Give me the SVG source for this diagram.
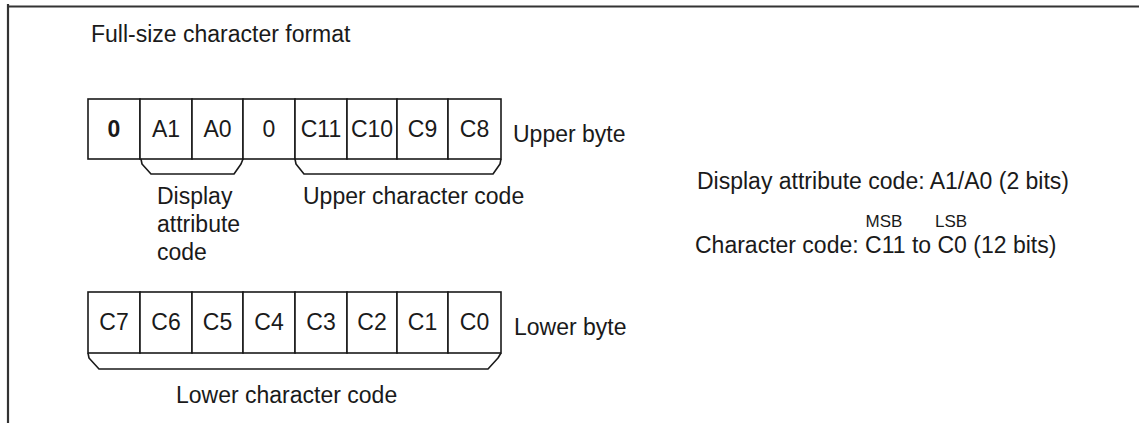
<svg xmlns="http://www.w3.org/2000/svg" width="1139" height="423" viewBox="0 0 1139 423">
<style>
  .t { font-family: "Liberation Sans", Arial, sans-serif; font-size: 23px; fill: #1a1a1a; }
  .c { font-family: "Liberation Sans", Arial, sans-serif; font-size: 23px; fill: #1a1a1a; text-anchor: middle; }
  .s { font-family: "Liberation Sans", Arial, sans-serif; font-size: 17px; fill: #1a1a1a; text-anchor: middle; }
  .cell { fill: #ffffff; stroke: #1a1a1a; stroke-width: 1.6; }
  .brace { fill: none; stroke: #1a1a1a; stroke-width: 1.6; stroke-linejoin: round; }
  .frame { fill: none; stroke: #333333; stroke-width: 2.2; }
</style>
<rect width="1139" height="423" fill="#ffffff"/>
<g id="frame">
  <line class="frame" x1="8" y1="4" x2="8" y2="423"/>
  <line class="frame" x1="7" y1="6.5" x2="1139" y2="6.5"/>
</g>
<text id="title" class="t" x="91" y="42">Full-size character format</text>

<g id="upper-byte">
  <g id="u0"><rect class="cell" x="88" y="99" width="52" height="60"/><text class="c" x="114" y="137" font-weight="bold">0</text></g>
  <g id="uA1"><rect class="cell" x="140" y="99" width="52" height="60"/><text class="c" x="166" y="137">A1</text></g>
  <g id="uA0"><rect class="cell" x="192" y="99" width="51" height="60"/><text class="c" x="217.5" y="137">A0</text></g>
  <g id="u0b"><rect class="cell" x="243" y="99" width="52" height="60"/><text class="c" x="269" y="137">0</text></g>
  <g id="uC11"><rect class="cell" x="295" y="99" width="52" height="60"/><text class="c" x="321" y="137">C11</text></g>
  <g id="uC10"><rect class="cell" x="347" y="99" width="50" height="60"/><text class="c" x="372" y="137">C10</text></g>
  <g id="uC9"><rect class="cell" x="397" y="99" width="51" height="60"/><text class="c" x="422.5" y="137">C9</text></g>
  <g id="uC8"><rect class="cell" x="448" y="99" width="53" height="60"/><text class="c" x="474.5" y="137">C8</text></g>
  <text class="t" x="513" y="142">Upper byte</text>
</g>

<g id="lower-byte">
  <g id="lC7"><rect class="cell" x="88" y="292" width="52" height="61"/><text class="c" x="114" y="330">C7</text></g>
  <g id="lC6"><rect class="cell" x="140" y="292" width="52" height="61"/><text class="c" x="166" y="330">C6</text></g>
  <g id="lC5"><rect class="cell" x="192" y="292" width="51" height="61"/><text class="c" x="217.5" y="330">C5</text></g>
  <g id="lC4"><rect class="cell" x="243" y="292" width="52" height="61"/><text class="c" x="269" y="330">C4</text></g>
  <g id="lC3"><rect class="cell" x="295" y="292" width="52" height="61"/><text class="c" x="321" y="330">C3</text></g>
  <g id="lC2"><rect class="cell" x="347" y="292" width="50" height="61"/><text class="c" x="372" y="330">C2</text></g>
  <g id="lC1"><rect class="cell" x="397" y="292" width="51" height="61"/><text class="c" x="422.5" y="330">C1</text></g>
  <g id="lC0"><rect class="cell" x="448" y="292" width="53" height="61"/><text class="c" x="474.5" y="330">C0</text></g>
  <text class="t" x="514" y="335">Lower byte</text>
</g>

<g id="connectors">
  <path class="brace" d="M141,159 L142,164 L151,174 H234 L241,164 L243,159"/>
  <path class="brace" d="M295,159 L296,164 L304,174 H493 L500,164 L501,159"/>
  <path class="brace" d="M88,353 L89,358 L99,369 H488 L498,358 L501,353"/>
</g>

<g id="labels">
  <text class="t" x="157" y="204">Display</text>
  <text class="t" x="157" y="232">attribute</text>
  <text class="t" x="157" y="260">code</text>
  <text class="t" x="303" y="204">Upper character code</text>
  <text class="t" x="176" y="403">Lower character code</text>
</g>

<g id="legend">
  <text class="t" x="697" y="189">Display attribute code: A1/A0 (2 bits)</text>
  <text class="s" x="884" y="227">MSB</text>
  <text class="s" x="951" y="227">LSB</text>
  <text class="t" x="695" y="253">Character code: C11 to C0 (12 bits)</text>
</g>
</svg>
